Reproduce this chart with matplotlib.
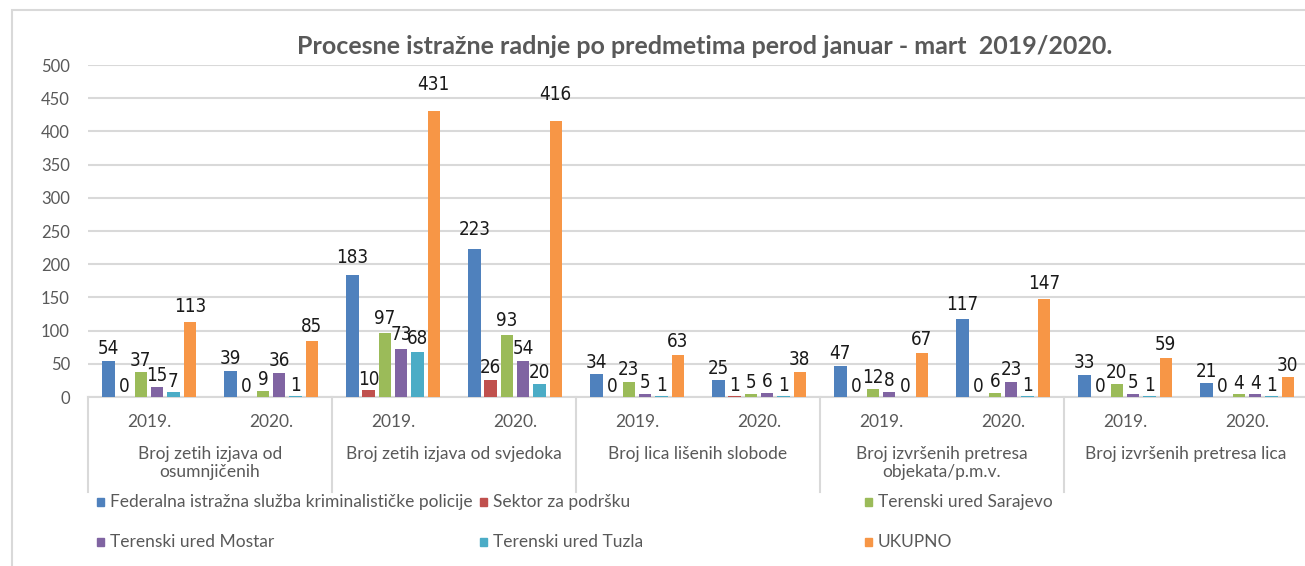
import numpy as np
import matplotlib.pyplot as plt
from matplotlib.patches import Rectangle

groups = ["Broj zetih izjava od\nosumnjičenih", "Broj zetih izjava od svjedoka",
          "Broj lica lišenih slobode", "Broj izvršenih pretresa\nobjekata/p.m.v.",
          "Broj izvršenih pretresa lica"]
years = ["2019.", "2020."]

series = ["Federalna istražna služba kriminalističke policije", "Sektor za podršku",
          "Terenski ured Sarajevo", "Terenski ured Mostar", "Terenski ured Tuzla", "UKUPNO"]
colors = ["#4F81BD", "#C0504D", "#9BBB59", "#8064A2", "#4BACC6", "#F79646"]

# one value per (group, year) in order: g1 2019, g1 2020, g2 2019, ...
federalna = [54, 39, 183, 223, 34, 25, 47, 117, 33, 21]
sektor = [0, 0, 10, 26, 0, 1, 0, 0, 0, 0]
sarajevo = [37, 9, 97, 93, 23, 5, 12, 6, 20, 4]
mostar = [15, 36, 73, 54, 5, 6, 8, 23, 5, 4]
tuzla = [7, 1, 68, 20, 1, 1, 0, 1, 1, 1]
ukupno = [113, 85, 431, 416, 63, 38, 67, 147, 59, 30]
values = [federalna, sektor, sarajevo, mostar, tuzla, ukupno]

W, H = 1305, 566
fig = plt.figure(figsize=(W / 100, H / 100), dpi=100)
fig.patch.set_facecolor("white")

plt.rcParams['font.family'] = ['Lato', 'DejaVu Sans']
gray = "#595959"
light = "#D9D9D9"

# outer chart border (only top/left visible in the crop)
fig.add_artist(Rectangle((12 / W, -0.2), 1.5, 1 - 10 / H + 0.2, transform=fig.transFigure,
                         fill=False, edgecolor=light, lw=1.5))

ax_left, ax_right, ax_top, ax_bot = 88, 88 + 1220, 65, 397
ax = fig.add_axes([ax_left / W, 1 - ax_bot / H, (ax_right - ax_left) / W, (ax_bot - ax_top) / H])

n = len(federalna)
x = np.arange(n)
step = 16.3 / 122
width = 12.5 / 122

for j, (name, vals, c) in enumerate(zip(series, values, colors)):
    xs = x + (j - 2.5) * step
    ax.bar(xs, vals, width=width, color=c, zorder=3)
    for xi, v in zip(xs, vals):
        ax.annotate(str(v), xy=(xi, v * 1.055), xytext=(0, 1.0), textcoords="offset points",
                    ha="center", va="bottom", fontsize=13.5, color="#1a1a1a",
                    family="DejaVu Sans", fontstretch="condensed", zorder=4)

ax.set_xlim(-0.5, n - 0.5)
ax.set_ylim(0, 500)
ax.set_yticks(range(0, 501, 50))
ax.tick_params(axis="y", length=0, pad=13, labelsize=12, labelcolor=gray)
ax.set_xticks([])
ax.grid(axis="y", color=light, lw=1.5, zorder=0)
for s in ["left", "right", "top"]:
    ax.spines[s].set_visible(False)
ax.spines["bottom"].set_color(light)
ax.spines["bottom"].set_linewidth(1.5)

trans = ax.get_xaxis_transform()
hpx = ax_bot - ax_top
for i in range(n):
    ax.text(i, -25 / hpx, years[i % 2], transform=trans, ha="center", va="center",
            fontsize=12.5, color=gray)
for g, label in enumerate(groups):
    ax.text(2 * g + 0.5, -49 / hpx, label, transform=trans, ha="center", va="top",
            fontsize=12.5, color=gray, linespacing=1.15)
for b in np.arange(-0.5, n, 2):
    ax.plot([b, b], [0, -95 / hpx], transform=trans, color=light, lw=1.5, clip_on=False)

fig.text(705 / W, 1 - 46 / H, "Procesne istražne radnje po predmetima perod januar - mart  2019/2020.",
         ha="center", va="center", fontsize=18, fontweight="bold", color=gray)

# legend, three columns, two rows
col_x = [97, 480, 865]
row_y = [502, 542]
for k, (name, c) in enumerate(zip(series, colors)):
    px = col_x[k % 3]
    py = row_y[k // 3]
    fig.add_artist(Rectangle((px / W, 1 - (py + 4) / H), 7 / W, 8 / H,
                             transform=fig.transFigure, color=c))
    fig.text((px + 13) / W, 1 - py / H, name, ha="left", va="center", fontsize=12.5, color=gray)

fig.savefig("out.png", dpi=100)
